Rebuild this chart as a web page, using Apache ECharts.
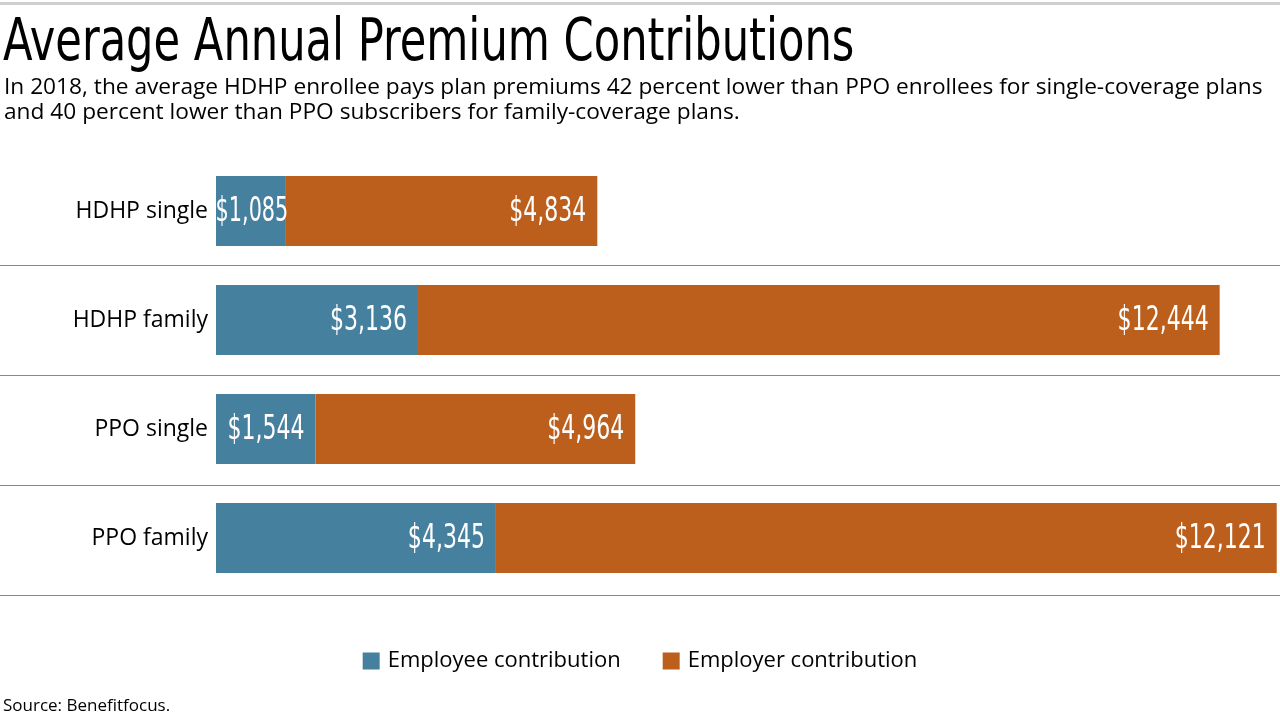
<!DOCTYPE html>
<html>
<head>
<meta charset="utf-8">
<script src="https://cdn.jsdelivr.net/npm/echarts@6/dist/echarts.min.js"></script>
<style>html,body{margin:0;padding:0;background:#fff}#c{width:1280px;height:720px}</style>
</head>
<body>
<div id="c"></div>
<script>
const categories = ['HDHP single', 'HDHP family', 'PPO single', 'PPO family'];
const employee = [1085, 3136, 1544, 4345];
const employer = [4834, 12444, 4964, 12121];
const seriesNames = ['Employee contribution', 'Employer contribution'];
const titleText = 'Average Annual Premium Contributions';
const subtitleText = 'In 2018, the average HDHP enrollee pays plan premiums 42 percent lower than PPO enrollees for single-coverage plans\nand 40 percent lower than PPO subscribers for family-coverage plans.';
const sourceText = 'Source: Benefitfocus.';

const cond = "'DejaVu Sans Condensed', 'DejaVu Sans', sans-serif";
const body = "'Open Sans', 'Noto Sans', sans-serif";
const fmt = v => '$' + v.toLocaleString('en-US');
const colors = ['#46809f', '#bc5f1c'];

const chart = echarts.init(document.getElementById('c'));
chart.setOption({
  animation: false,
  legend: {
    bottom: 43, left: 'center', itemWidth: 17, itemHeight: 17, itemGap: 42,
    icon: 'rect',
    textStyle: { fontFamily: body, fontSize: 22, color: '#000', padding: [0, 0, 0, 3] },
    data: seriesNames
  },
  grid: { left: 216, right: 3, top: 156.5, height: 436 },
  xAxis: { type: 'value', min: 0, max: 16470, show: false },
  yAxis: {
    type: 'category', inverse: true, data: categories,
    axisLine: { show: false }, axisTick: { show: false }, splitLine: { show: false },
    axisLabel: { fontFamily: body, fontSize: 23, color: '#000', margin: 8 }
  },
  series: [
    { name: seriesNames[0], type: 'bar', stack: 't', barWidth: 70, itemStyle: { color: colors[0] }, data: employee },
    { name: seriesNames[1], type: 'bar', stack: 't', barWidth: 70, itemStyle: { color: colors[1] }, data: employer }
  ]
});

// value labels placed with the chart's own scales, drawn in a horizontally condensed face
const labelEls = [];
categories.forEach((c, i) => {
  const p0 = chart.convertToPixel({ gridIndex: 0 }, [0, c]);
  const p1 = chart.convertToPixel({ gridIndex: 0 }, [employee[i], c]);
  const p2 = chart.convertToPixel({ gridIndex: 0 }, [employee[i] + employer[i], c]);
  const segs = [[p0[0], p1[0], employee[i]], [p1[0], p2[0], employer[i]]];
  segs.forEach(([a, b, v]) => {
    const narrowSeg = (b - a) < 90;
    labelEls.push({
      type: 'text', z: 100, x: narrowSeg ? (a + b) / 2 + 1 : b - 11, y: p1[1] + 1,
      scaleX: narrowSeg ? 0.68 : 0.72, scaleY: 1,
      style: { text: fmt(v), fill: '#fff', font: "34px " + cond, align: narrowSeg ? 'center' : 'right', verticalAlign: 'middle' }
    });
  });
});

chart.setOption({
  graphic: [
    { type: 'rect', shape: { x: 0, y: 2, width: 1280, height: 3 }, style: { fill: '#cfcfcf' } },
    { type: 'text', x: 3, y: 45, scaleX: 0.814, style: { text: titleText, fill: '#000', font: "59px " + cond, verticalAlign: 'middle' } },
    { type: 'text', x: 4, y: 100, style: { text: subtitleText, fill: '#000', font: "22.7px " + body, lineHeight: 24.3, verticalAlign: 'middle' } },
    { type: 'text', x: 3, y: 706, style: { text: sourceText, fill: '#000', font: "17px " + body, verticalAlign: 'middle' } },
    ...[265.5, 375.5, 485.5, 595.5].map(y => ({ type: 'line', shape: { x1: 0, y1: y, x2: 1280, y2: y }, style: { stroke: '#888', lineWidth: 1 } })),
    ...labelEls
  ]
});
</script>
</body>
</html>
